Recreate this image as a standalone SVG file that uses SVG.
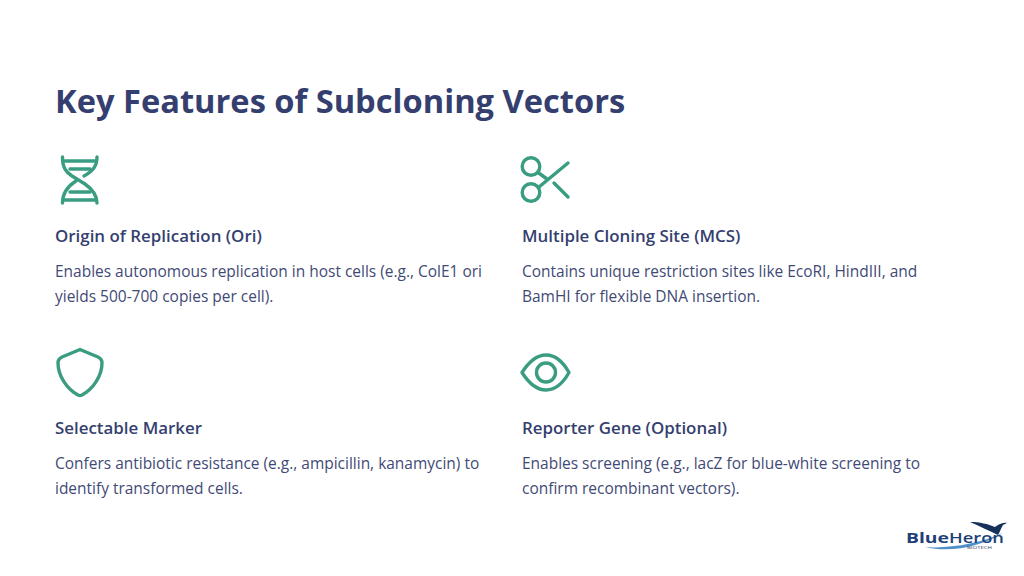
<svg xmlns="http://www.w3.org/2000/svg" width="1024" height="576" viewBox="0 0 1024 576">
<style>
text{font-family:"Open Sans","Noto Sans",sans-serif}
.t{font-size:32.650px;font-weight:700;fill:#353f6f}
.h{font-size:16.900px;font-weight:600;fill:#353f6f}
.b{font-size:15.480px;fill:#3f4a76}
.i{fill:none;stroke:#3a9d82;stroke-width:3.400;stroke-linecap:round;stroke-linejoin:round}
</style>
<rect width="1024" height="576" fill="#fff"/>
<text id="title" class="t" x="55" y="112.500">Key Features of Subcloning Vectors</text>
<g id="node-ori">
<path class="i" d="M62.500 157C62.500 168 66 172 72 176L85 184C92 189 97 195 97 203"/>
<path class="i" d="M97 157C97 166 93 171 84 176M76 181C68 186 62.500 192 62.500 203"/>
<path class="i" d="M65 161H95M70 169H90M70 192H90M65 200H95"/>
<text class="h" x="55" y="242">Origin of Replication (Ori)</text>
<text class="b" x="55" y="277">Enables autonomous replication in host cells (e.g., ColE1 ori</text>
<text class="b" x="55" y="302">yields 500-700 copies per cell).</text>
</g>
<g id="node-mcs">
<circle class="i" cx="531" cy="166.500" r="8.800"/>
<circle class="i" cx="531" cy="192.500" r="8.800"/>
<path class="i" d="M538 172.500L547 179M539 187L568 163M554 183L568 197"/>
<text class="h" x="522" y="242">Multiple Cloning Site (MCS)</text>
<text class="b" x="522" y="277">Contains unique restriction sites like EcoRI, HindIII, and</text>
<text class="b" x="522" y="302">BamHI for flexible DNA insertion.</text>
</g>
<g id="node-marker">
<path class="i" d="M80 349.500L98 357Q102 359 102 363C102 376 93 389 82 395Q80 396 78 395C67 389 58 376 58 363Q58 359 62 357Z"/>
<text class="h" x="55" y="434">Selectable Marker</text>
<text class="b" x="55" y="469">Confers antibiotic resistance (e.g., ampicillin, kanamycin) to</text>
<text class="b" x="55" y="494">identify transformed cells.</text>
</g>
<g id="node-reporter">
<path class="i" d="M522 372.500C530 360 538 355 546 355C554 355 562 360 569 372.500C562 385 554 390 546 390C538 390 530 385 522 372.500Z"/>
<circle class="i" cx="546" cy="372.500" r="9.500"/>
<text class="h" x="522" y="434">Reporter Gene (Optional)</text>
<text class="b" x="522" y="469">Enables screening (e.g., lacZ for blue-white screening to</text>
<text class="b" x="522" y="494">confirm recombinant vectors).</text>
</g>
<g id="logo">
<path d="M970 522C980 522 988 524 995 527C998 525 1002 522 1007 523L1003 525C1001 528 1000 532 998 535C990 531 981 527 970 522Z" fill="#16325c"/>
<path d="M925 547C950 549 980 543 1003 533C980 547 950 553 925 547Z" fill="#4d8fc9"/>
<text x="906" y="543" font-size="15" font-weight="700" fill="#1f3f77" textLength="43" lengthAdjust="spacingAndGlyphs">Blue</text>
<text x="949" y="543" font-size="15" font-weight="600" fill="#1f3f77" textLength="55" lengthAdjust="spacingAndGlyphs">Heron</text>
<text x="967" y="549" font-size="3.800" fill="#33405f" textLength="25" lengthAdjust="spacingAndGlyphs">BIOTECH</text>
</g>
</svg>
